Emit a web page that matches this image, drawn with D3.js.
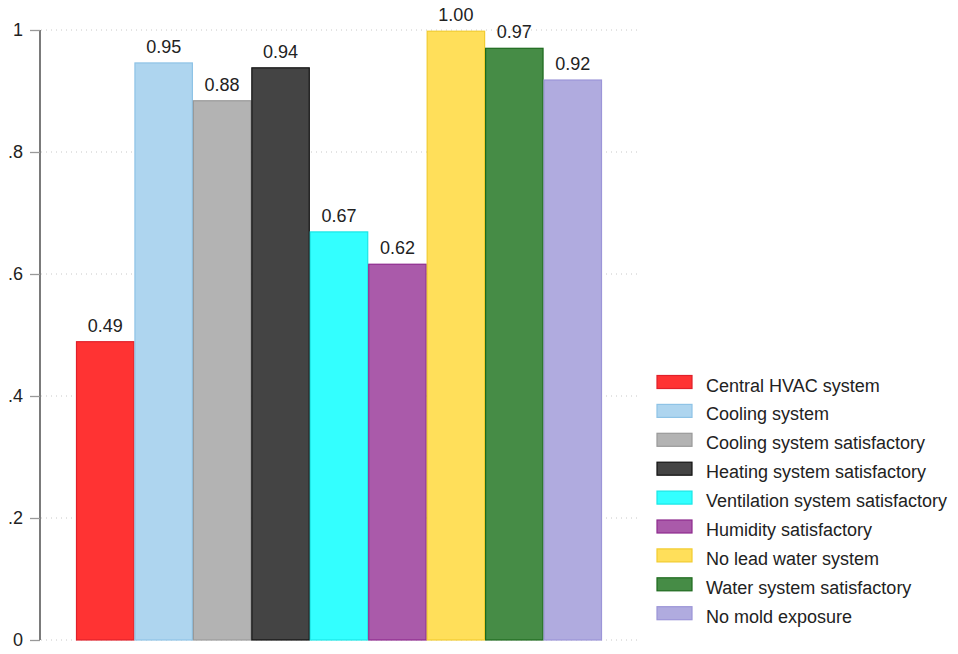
<!DOCTYPE html>
<html><head><meta charset="utf-8">
<script src="https://cdn.jsdelivr.net/npm/d3@7"></script>
<style>body{margin:0;background:#fff}svg{display:block;font-family:"Liberation Sans",Arial,sans-serif}</style>
</head><body><svg id="c" width="958" height="654"></svg>
<script>
const categories = ["Central HVAC system","Cooling system","Cooling system satisfactory","Heating system satisfactory","Ventilation system satisfactory","Humidity satisfactory","No lead water system","Water system satisfactory","No mold exposure"];
const values = [0.489, 0.946, 0.884, 0.938, 0.669, 0.616, 0.998, 0.970, 0.918];
const valueLabels = ["0.49","0.95","0.88","0.94","0.67","0.62","1.00","0.97","0.92"];
const fills = ["#ff3333","#aed5ef","#b3b3b3","#444444","#33ffff","#aa5aaa","#ffdf5a","#468c46","#b0abdf"];
const strokes = ["#e0202a","#8ec3e6","#999999","#111111","#19e6e6","#8e2a8e","#f2cc30","#1d6a1d","#9c95d8"];
const yTicks = [0, 0.2, 0.4, 0.6, 0.8, 1];
const yTickLabels = ["0", ".2", ".4", ".6", ".8", "1"];

const svg = d3.select("#c");
const y = d3.scaleLinear().domain([0,1]).range([640,30]);
const x = d3.scaleBand().domain(categories).range([76,602]).padding(0);

// gridlines
svg.append("g").selectAll("line").data(yTicks).join("line")
  .attr("x1",41).attr("x2",640).attr("y1",d=>y(d)).attr("y2",d=>y(d))
  .attr("stroke","#c8c8c8").attr("stroke-width",1).attr("stroke-dasharray","1,4");

// axis
const ax = svg.append("g").attr("transform","translate(40,0)")
  .call(d3.axisLeft(y).tickValues(yTicks).tickFormat((d,i)=>yTickLabels[i]).tickSize(10).tickPadding(7));
ax.select(".domain").attr("stroke","#333").attr("stroke-width",1.3).attr("d","M0,"+y(1)+"V"+y(0));
ax.selectAll(".tick line").attr("stroke","#999").attr("stroke-width",1.3);
ax.selectAll(".tick text").attr("font-size",18).attr("fill","#222").attr("font-family","Liberation Sans, Arial, sans-serif");

// bars
svg.append("g").selectAll("rect").data(categories).join("rect")
  .attr("x",d=>x(d)+0.5).attr("width",x.bandwidth()-1)
  .attr("y",(d,i)=>y(values[i])).attr("height",(d,i)=>y(0)-y(values[i]))
  .attr("fill",(d,i)=>fills[i]).attr("stroke",(d,i)=>strokes[i]).attr("stroke-width",1.2);

// value labels
svg.append("g").selectAll("text").data(categories).join("text")
  .attr("x",d=>x(d)+x.bandwidth()/2).attr("y",(d,i)=>y(values[i])-10)
  .attr("text-anchor","middle").attr("font-size",18).attr("fill","#222")
  .text((d,i)=>valueLabels[i]);

// legend
const lg = svg.append("g");
const rows = lg.selectAll("g").data(categories).join("g")
  .attr("transform",(d,i)=>`translate(657,${375.5+i*28.9})`);
rows.append("rect").attr("width",35).attr("height",13)
  .attr("fill",(d,i)=>fills[i]).attr("stroke",(d,i)=>strokes[i]).attr("stroke-width",1.2);
rows.append("text").attr("x",49).attr("y",16).attr("font-size",18).attr("fill","#222").text(d=>d);
</script></body></html>
